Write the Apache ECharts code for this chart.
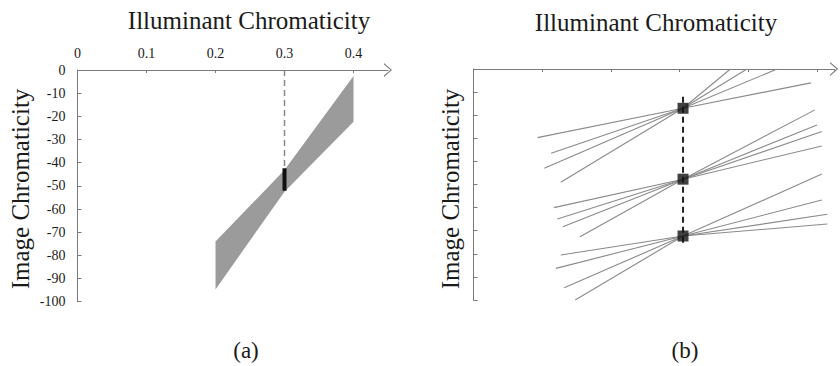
<!DOCTYPE html>
<html><head><meta charset="utf-8">
<script src="https://cdn.jsdelivr.net/npm/echarts@6/dist/echarts.min.js"></script>
<style>html,body{margin:0;padding:0;background:#fff}#c{width:840px;height:366px}</style>
</head><body><div id="c"></div>
<script>
// ---------- axis ticks (0.1 apart on x, 10 apart on y) ----------
const xTickStep = 0.1;
const yTickStep = 10;
const yRange = [-100, 0];

// ---------- panel (a): grey band of image chromaticities ----------
const bandX     = [0.2,   0.3,   0.4];
const bandUpper = [-74,   -43.2, -2.6];
const bandLower = [-94.7, -52.5, -22.3];
const barA  = [[0.3, -42.4], [0.3, -52.1]];   // black segment at the illuminant
const dashA = [[0.3, 0], [0.3, -42.4]];       // dashed guide

// ---------- panel (b): line bundles through three pivots ----------
const pivotX = 0.305;
const pivotY = [-17, -47.7, -72.3];
const leftX  = [[0.093, 0.113, 0.103, 0.127], [0.117, 0.122, 0.130, 0.155], [0.127, 0.120, 0.132, 0.148]];
const leftY  = [[-29.7, -36.5, -43, -49],     [-60, -64.9, -68.3, -72.6],  [-80.5, -86.3, -94.7, -100]];
const rightX = [[0.491, 0.442, 0.398, 0.374], [0.507, 0.507, 0.500, 0.497], [0.515, 0.515, 0.507, 0.507]];
const rightY = [[-6, 0, 0, 0],                [-33.3, -27.1, -24.2, -17.7], [-67.1, -62.9, -56.7, -45.5]];
const dashBY = [-12, -77];

// ---------- styling ----------
const SERIF = 'Liberation Serif';
const AX = '#7a7a7a';
const TXT = '#1a1a1a';
const chevron = 'path://M0,8 L7,0 L14,8 L12.6,8 L7,1.6 L1.4,8 Z';

const labelStyleX = { show: true, margin: 10, fontSize: 14, fontFamily: SERIF, color: TXT, showMaxLabel: false };
const labelStyleY = { show: true, margin: 12, fontSize: 14, fontFamily: SERIF, color: TXT };

function xAxisCfg(grid, max, showLabels) {
  return {
    gridIndex: grid, type: 'value', position: 'top', min: 0, max: max, interval: xTickStep,
    axisLine: { show: true, onZero: false, lineStyle: { color: AX, width: 1 },
                symbol: ['none', chevron], symbolSize: [14, 8] },
    axisTick: { show: true, inside: true, length: 3, lineStyle: { color: AX } },
    axisLabel: showLabels ? labelStyleX : { show: false },
    splitLine: { show: false }
  };
}
function yAxisCfg(grid, showLabels) {
  return {
    gridIndex: grid, type: 'value', position: 'left', min: yRange[0], max: yRange[1], interval: yTickStep,
    axisLine: { show: true, onZero: false, lineStyle: { color: AX, width: 1 } },
    axisTick: { show: true, inside: true, length: 4, lineStyle: { color: AX } },
    axisLabel: showLabels ? labelStyleY : { show: false },
    splitLine: { show: false }
  };
}

const series = [];
series.push({
  type: 'custom', xAxisIndex: 0, yAxisIndex: 0, silent: true, clip: false,
  data: [[bandX[0], bandUpper[0]]],
  renderItem: function (params, api) {
    const up = bandX.map((x, i) => api.coord([x, bandUpper[i]]));
    const lo = bandX.map((x, i) => api.coord([x, bandLower[i]])).reverse();
    return { type: 'polygon', shape: { points: up.concat(lo) }, style: { fill: '#9b9b9b' } };
  }
});
series.push({ type: 'line', xAxisIndex: 0, yAxisIndex: 0, data: dashA, symbol: 'none', silent: true,
  lineStyle: { color: '#888', width: 1.5, type: [6, 4] }, z: 3 });
series.push({ type: 'line', xAxisIndex: 0, yAxisIndex: 0, data: barA, symbol: 'none', silent: true,
  lineStyle: { color: '#111', width: 4, cap: 'butt' }, z: 4 });

for (let g = 0; g < pivotY.length; g++) {
  for (let k = 0; k < leftX[g].length; k++) {
    series.push({
      type: 'line', xAxisIndex: 1, yAxisIndex: 1, symbol: 'none', silent: true,
      data: [[leftX[g][k], leftY[g][k]], [pivotX, pivotY[g]], [rightX[g][k], rightY[g][k]]],
      lineStyle: { color: '#8a8a8a', width: 1.1 }, z: 2
    });
  }
}
series.push({ type: 'line', xAxisIndex: 1, yAxisIndex: 1, symbol: 'none', silent: true,
  data: dashBY.map(y => [pivotX, y]),
  lineStyle: { color: '#222', width: 2, type: [6, 4] }, z: 3 });
series.push({ type: 'scatter', xAxisIndex: 1, yAxisIndex: 1, silent: true,
  data: pivotY.map(y => [pivotX, y]), symbol: 'rect', symbolSize: 11,
  itemStyle: { color: '#111' }, z: 5 });

function txt(x, y, s, size, rot) {
  return { type: 'text', x: x, y: y, rotation: rot || 0, silent: true,
    style: { text: s, fontSize: size, fontFamily: SERIF, fill: TXT, align: 'center', verticalAlign: 'middle' } };
}

const chart = echarts.init(document.getElementById('c'), null, { renderer: 'svg', width: 840, height: 366 });
chart.setOption({
  animation: false,
  backgroundColor: '#fff',
  grid: [
    { left: 77.5, top: 70, width: 0.45 * 690, height: 231.7 },
    { left: 473.5, top: 69, width: 0.525 * 687, height: 231 }
  ],
  xAxis: [xAxisCfg(0, 0.45, true), xAxisCfg(1, 0.525, false)],
  yAxis: [yAxisCfg(0, true), yAxisCfg(1, false)],
  series: series,
  graphic: [
    txt(249, 20, 'Illuminant Chromaticity', 25),
    txt(656, 22, 'Illuminant Chromaticity', 25),
    txt(20, 189, 'Image Chromaticity', 25, Math.PI / 2),
    txt(450, 189, 'Image Chromaticity', 25, Math.PI / 2),
    txt(246, 350, '(a)', 23),
    txt(685, 350, '(b)', 23)
  ]
});
</script></body></html>
